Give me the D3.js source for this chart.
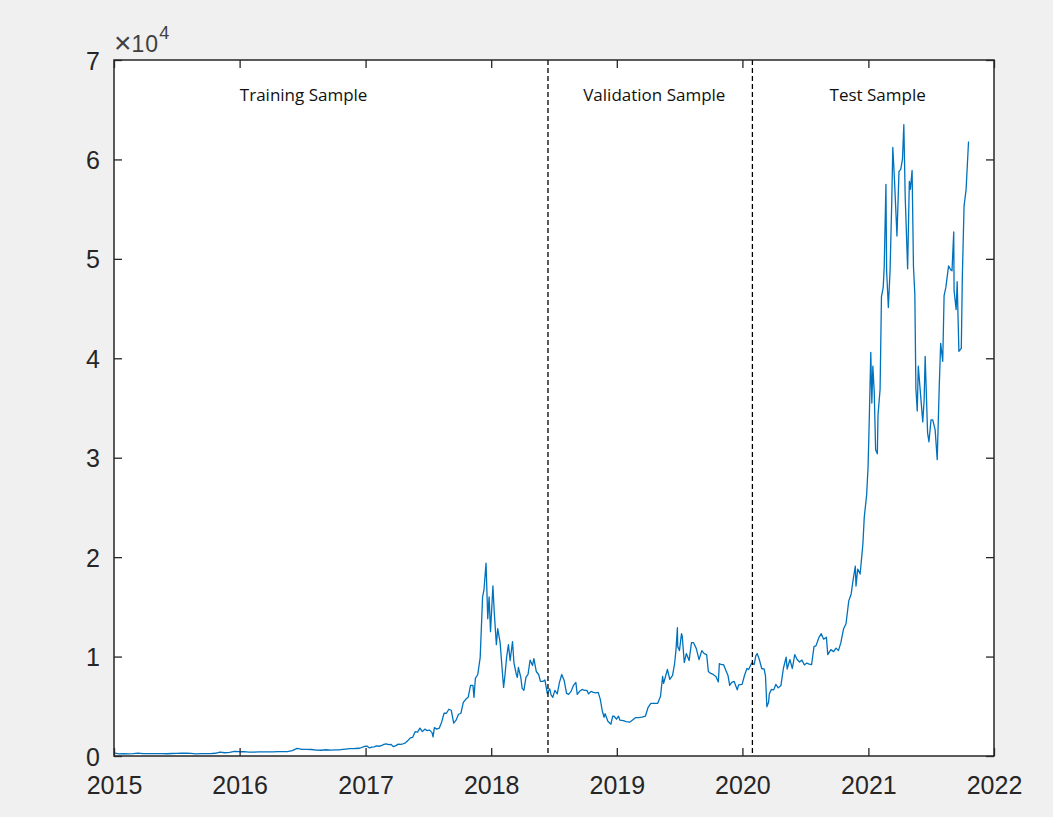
<!DOCTYPE html>
<html>
<head>
<meta charset="utf-8">
<script src="https://cdn.jsdelivr.net/npm/d3@7"></script>
<style>
  html, body { margin: 0; padding: 0; background: #f0f0f0; }
  svg { display: block; }
</style>
</head>
<body>
<svg id="chart" width="1053" height="817"></svg>
<script>
// ---- Data (approximate weekly / bi-weekly BTC prices) ----
const dates2015 = ["2015-01-01","2015-01-15","2015-01-29","2015-02-12","2015-02-26","2015-03-12","2015-03-26","2015-04-09","2015-04-23","2015-05-07","2015-05-21","2015-06-04","2015-06-18","2015-07-02","2015-07-16","2015-07-30","2015-08-13","2015-08-27","2015-09-10","2015-09-24","2015-10-08","2015-10-22","2015-11-05","2015-11-19","2015-12-03","2015-12-17","2015-12-31"];
const prices2015 = [314,210,233,222,237,294,248,244,236,237,235,225,249,255,278,287,264,223,238,235,243,275,400,326,360,455,430];

const dates2016 = ["2016-01-14","2016-01-28","2016-02-11","2016-02-25","2016-03-10","2016-03-24","2016-04-07","2016-04-21","2016-05-05","2016-05-19","2016-06-02","2016-06-16","2016-06-30","2016-07-14","2016-07-28","2016-08-11","2016-08-25","2016-09-08","2016-09-22","2016-10-06","2016-10-20","2016-11-03","2016-11-17","2016-12-01","2016-12-15","2016-12-29"];
const prices2016 = [430,380,380,424,415,416,422,450,448,438,537,766,673,660,655,590,577,627,596,612,631,687,740,753,780,975];

const dates2017 = ["2017-01-05","2017-01-12","2017-01-19","2017-01-26","2017-02-02","2017-02-09","2017-02-16","2017-02-23","2017-03-02","2017-03-09","2017-03-16","2017-03-23","2017-03-30","2017-04-06","2017-04-13","2017-04-20","2017-04-27","2017-05-04","2017-05-11","2017-05-18","2017-05-25","2017-06-01","2017-06-08","2017-06-15","2017-06-22","2017-06-29","2017-07-06","2017-07-13","2017-07-16","2017-07-20","2017-07-27","2017-08-03","2017-08-10","2017-08-17","2017-08-24","2017-08-31","2017-09-07","2017-09-14","2017-09-21","2017-09-28","2017-10-05","2017-10-12","2017-10-19","2017-10-26","2017-11-02","2017-11-09","2017-11-12","2017-11-16","2017-11-23","2017-11-30","2017-12-07","2017-12-11","2017-12-17","2017-12-22","2017-12-26","2017-12-30"];
const prices2017 = [1000,810,900,915,1010,980,1035,1175,1220,1150,1170,940,1040,1190,1170,1230,1330,1550,1820,1880,2450,2400,2800,2450,2700,2550,2600,2350,1930,2850,2700,2800,3400,4300,4300,4700,4600,3300,3600,4200,4300,5400,5700,5900,7100,7100,5900,7800,8200,9900,16000,16700,19400,13800,16000,12500];

const dates2018 = ["2018-01-06","2018-01-10","2018-01-16","2018-01-20","2018-01-27","2018-02-01","2018-02-06","2018-02-10","2018-02-15","2018-02-20","2018-02-25","2018-03-04","2018-03-08","2018-03-15","2018-03-18","2018-03-21","2018-03-28","2018-04-01","2018-04-06","2018-04-12","2018-04-18","2018-04-24","2018-05-01","2018-05-05","2018-05-12","2018-05-19","2018-05-24","2018-05-31","2018-06-06","2018-06-13","2018-06-20","2018-06-24","2018-06-29","2018-07-05","2018-07-12","2018-07-18","2018-07-25","2018-08-01","2018-08-08","2018-08-14","2018-08-21","2018-08-28","2018-09-04","2018-09-08","2018-09-15","2018-09-22","2018-09-29","2018-10-06","2018-10-11","2018-10-18","2018-10-25","2018-11-01","2018-11-08","2018-11-14","2018-11-20","2018-11-25","2018-11-28","2018-12-06","2018-12-15","2018-12-20","2018-12-24","2018-12-31"];
const prices2018 = [17100,14400,11200,12800,11400,9100,6900,8100,10000,11200,9600,11500,9400,8200,7900,8900,7900,6800,6600,7900,8200,9650,9100,9800,8500,8200,7500,7500,7650,6300,6750,6150,5900,6600,6250,7350,8200,7600,6300,6200,6500,7100,7400,6200,6500,6700,6600,6600,6250,6500,6400,6350,6400,5700,4500,3900,4250,3500,3200,4000,4000,3700];

const dates2019 = ["2019-01-06","2019-01-10","2019-01-20","2019-01-28","2019-02-07","2019-02-15","2019-02-24","2019-03-05","2019-03-15","2019-03-25","2019-04-02","2019-04-10","2019-04-20","2019-04-30","2019-05-08","2019-05-14","2019-05-17","2019-05-28","2019-06-04","2019-06-12","2019-06-18","2019-06-22","2019-06-26","2019-06-27","2019-07-02","2019-07-08","2019-07-10","2019-07-16","2019-07-22","2019-07-30","2019-08-06","2019-08-12","2019-08-20","2019-08-28","2019-09-05","2019-09-12","2019-09-19","2019-09-24","2019-10-01","2019-10-08","2019-10-16","2019-10-23","2019-10-26","2019-10-31","2019-11-07","2019-11-14","2019-11-20","2019-11-25","2019-12-01","2019-12-08","2019-12-17","2019-12-21","2019-12-31"];
const prices2019 = [4000,3600,3550,3450,3400,3600,3850,3850,3900,4000,4900,5300,5300,5300,6000,8000,7300,8700,7700,8100,9300,10700,12900,11000,10600,12300,12100,9400,10300,9600,11400,11400,10800,9700,10600,10300,10200,8500,8300,8200,8000,7450,9300,9200,9200,8600,8100,7100,7400,7500,6650,7150,7200];

const dates2020 = ["2020-01-07","2020-01-14","2020-01-19","2020-01-28","2020-02-04","2020-02-09","2020-02-13","2020-02-20","2020-02-26","2020-03-04","2020-03-08","2020-03-12","2020-03-17","2020-03-19","2020-03-25","2020-04-01","2020-04-07","2020-04-14","2020-04-22","2020-04-29","2020-05-07","2020-05-10","2020-05-18","2020-05-25","2020-06-01","2020-06-08","2020-06-15","2020-06-22","2020-06-29","2020-07-06","2020-07-13","2020-07-20","2020-07-27","2020-08-02","2020-08-10","2020-08-17","2020-08-24","2020-09-01","2020-09-05","2020-09-14","2020-09-22","2020-09-29","2020-10-06","2020-10-13","2020-10-21","2020-10-28","2020-11-05","2020-11-12","2020-11-18","2020-11-24","2020-11-26","2020-12-01","2020-12-08","2020-12-16","2020-12-20","2020-12-27","2020-12-31"];
const prices2020 = [8100,8800,8700,9350,9200,10100,10300,9600,8800,8750,8050,4950,5400,6200,6700,6650,7200,6850,7100,8800,9950,8750,9700,8800,10200,9700,9450,9650,9150,9350,9250,9200,11000,11100,11900,12300,11750,11950,10200,10700,10500,10850,10600,11400,12800,13300,15600,16300,17800,19100,17100,18800,18300,21300,24000,26300,29000];

const dates2021 = ["2021-01-03","2021-01-08","2021-01-11","2021-01-14","2021-01-18","2021-01-22","2021-01-27","2021-01-29","2021-02-04","2021-02-08","2021-02-13","2021-02-16","2021-02-21","2021-02-23","2021-02-28","2021-03-05","2021-03-10","2021-03-13","2021-03-18","2021-03-25","2021-03-31","2021-04-05","2021-04-10","2021-04-14","2021-04-18","2021-04-23","2021-04-25","2021-04-30","2021-05-03","2021-05-08","2021-05-12","2021-05-16","2021-05-19","2021-05-23","2021-05-26","2021-06-01","2021-06-08","2021-06-12","2021-06-15","2021-06-22","2021-06-26","2021-07-02","2021-07-07","2021-07-14","2021-07-20","2021-07-26","2021-07-30","2021-08-05","2021-08-09","2021-08-14","2021-08-22","2021-08-28","2021-09-01","2021-09-06","2021-09-07","2021-09-13","2021-09-16","2021-09-21","2021-09-28","2021-10-01","2021-10-06","2021-10-12","2021-10-19"];
const prices2021 = [33000,40600,35500,39200,36600,30800,30400,34300,36900,46200,47100,49200,57500,48800,45100,48800,55900,61200,57800,52300,58800,59000,60000,63500,56200,51100,49000,57800,57000,58900,49200,46400,37000,34700,39200,36600,33600,35800,40200,32500,31600,33800,33800,32800,29800,37300,41500,39700,46300,47100,49300,48900,48800,52700,46800,44900,47700,40700,41000,48200,55300,57000,61800];

const splitDates = ["2018-06-15","2020-01-30"];
const sampleLabels = ["Training Sample","Validation Sample","Test Sample"];
const labelDates = ["2016-07-05","2019-04-20","2021-01-28"];
const yearTicks = [2015,2016,2017,2018,2019,2020,2021,2022];
const yTicks = [0,10000,20000,30000,40000,50000,60000,70000];

// ---- Build series ----
const parse = d3.timeParse("%Y-%m-%d");
const allDates = [].concat(dates2015, dates2016, dates2017, dates2018, dates2019, dates2020, dates2021);
const allPrices = [].concat(prices2015, prices2016, prices2017, prices2018, prices2019, prices2020, prices2021);
const series = allDates.map((d, i) => ({ date: parse(d), value: allPrices[i] }));

// ---- Layout ----
const svg = d3.select("#chart");
const L = 114, R = 994, T = 60, B = 756;
const x = d3.scaleTime().domain([new Date(2015,0,1), new Date(2022,0,1)]).range([L, R]);
const y = d3.scaleLinear().domain([0, 70000]).range([B, T]);
const axisColor = "#262626";
const tickLen = 8;

svg.append("rect").attr("width", 1053).attr("height", 817).attr("fill", "#f0f0f0");
svg.append("rect").attr("x", L).attr("y", T).attr("width", R - L).attr("height", B - T).attr("fill", "#ffffff");

// data line
svg.append("path")
  .datum(series)
  .attr("fill", "none")
  .attr("stroke", "#0072bd")
  .attr("stroke-width", 1.3)
  .attr("stroke-linejoin", "round")
  .attr("d", d3.line().x(d => x(d.date)).y(d => y(d.value)));

// split lines
svg.selectAll(".split").data(splitDates).enter().append("line")
  .attr("x1", d => x(parse(d))).attr("x2", d => x(parse(d)))
  .attr("y1", T).attr("y2", B)
  .attr("stroke", "#000").attr("stroke-width", 1.3)
  .attr("stroke-dasharray", "5,3");

// sample labels
svg.selectAll(".lab").data(sampleLabels).enter().append("text")
  .attr("x", (d, i) => x(parse(labelDates[i])))
  .attr("y", 101)
  .attr("text-anchor", "middle")
  .attr("font-family", "Open Sans, sans-serif")
  .attr("font-size", 17)
  .attr("fill", "#111")
  .text(d => d);

// axes (ticks inside, mirrored)
const fontAx = "Liberation Sans, Arial, Helvetica, sans-serif";
const xAxisB = d3.axisBottom(x).tickValues(yearTicks.map(yr => new Date(yr,0,1)))
  .tickSizeInner(-tickLen).tickSizeOuter(0).tickPadding(20).tickFormat(d3.timeFormat("%Y"));
const gxb = svg.append("g").attr("transform", `translate(0,${B})`).call(xAxisB);
const xAxisT = d3.axisTop(x).tickValues(yearTicks.map(yr => new Date(yr,0,1)))
  .tickSizeInner(-tickLen).tickSizeOuter(0).tickFormat("");
const gxt = svg.append("g").attr("transform", `translate(0,${T})`).call(xAxisT);

const yAxisL = d3.axisLeft(y).tickValues(yTicks)
  .tickSizeInner(-tickLen).tickSizeOuter(0).tickPadding(14).tickFormat(d => d / 10000);
const gyl = svg.append("g").attr("transform", `translate(${L},0)`).call(yAxisL);
const yAxisR = d3.axisRight(y).tickValues(yTicks)
  .tickSizeInner(-tickLen).tickSizeOuter(0).tickFormat("");
const gyr = svg.append("g").attr("transform", `translate(${R},0)`).call(yAxisR);

[gxb, gxt, gyl, gyr].forEach(g => {
  g.select(".domain").remove();
  g.selectAll(".tick line").attr("stroke", axisColor).attr("stroke-width", 1.3);
  g.selectAll(".tick text").attr("fill", axisColor).attr("font-family", fontAx).attr("font-size", 25);
});
gxb.selectAll(".tick text").attr("dy", "0.71em");
gyl.selectAll(".tick text").attr("dy", "0.36em");

// box
svg.append("rect").attr("x", L).attr("y", T).attr("width", R - L).attr("height", B - T)
  .attr("fill", "none").attr("stroke", axisColor).attr("stroke-width", 1.5);

// exponent label
const ex = svg.append("text").attr("x", L).attr("y", 52)
  .attr("font-family", fontAx).attr("fill", "#404040");
ex.append("tspan").attr("font-size", 30).attr("dy", 1).text("\u00d7");
ex.append("tspan").attr("font-size", 23).attr("dy", -1).attr("letter-spacing", 1).text("10");
ex.append("tspan").attr("font-size", 18).attr("dy", -13).text("4");
</script>
</body>
</html>
